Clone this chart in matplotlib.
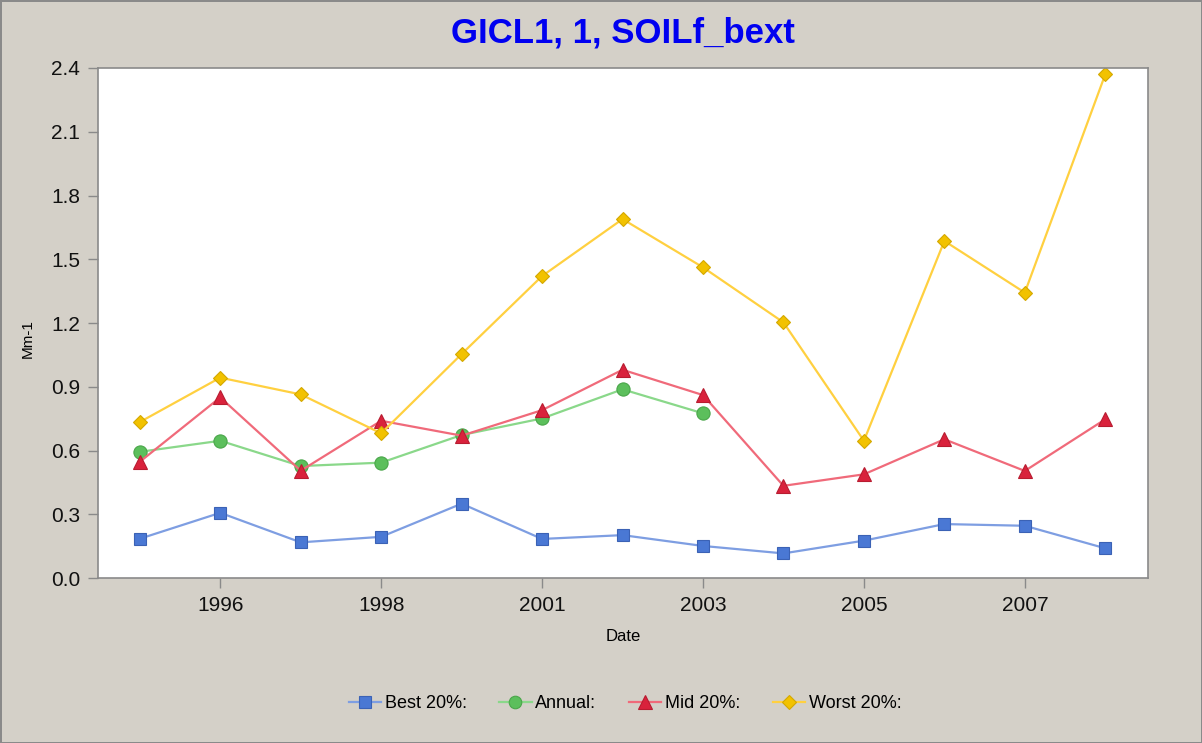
import numpy as np
import matplotlib
matplotlib.use("Agg")
import matplotlib.pyplot as plt

plt.rcParams['font.family'] = ['Liberation Sans', 'DejaVu Sans']

# 13 yearly points, only every other year is labelled on the axis
tick_pos = [1, 3, 5, 7, 9, 11]
tick_labels = ["1996", "1998", "2001", "2003", "2005", "2007"]

best = [0.185, 0.307, 0.168, 0.194, 0.350, 0.184, 0.202, 0.151, 0.116, 0.176, 0.254, 0.246, 0.140]
annual = [0.594, 0.646, 0.527, 0.543, 0.673, 0.751, 0.888, 0.775,
          np.nan, np.nan, np.nan, np.nan, np.nan]
mid = [0.547, 0.850, 0.505, 0.740, 0.670, 0.790, 0.980, 0.861, 0.434, 0.488, 0.653, 0.504, 0.747]
worst = [0.734, 0.943, 0.864, 0.681, 1.054, 1.421, 1.689, 1.462, 1.203, 0.646, 1.586, 1.343, 2.370]

bg = "#D4D0C8"
fig = plt.figure(figsize=(12.02, 7.43), dpi=100, facecolor=bg)
fig.patch.set_edgecolor("#8a8a8a")
fig.patch.set_linewidth(2)
ax = fig.add_axes([0.0815, 0.222, 0.8735, 0.6865])
ax.set_facecolor("white")

x = np.arange(len(best))
series = [
    ("Best 20%:", best, "s", 9, "#4A78D4", "#3B62B5", "#7E9EE2"),
    ("Annual:", annual, "o", 9.5, "#5CBF5C", "#4AA64A", "#8AD88A"),
    ("Mid 20%:", mid, "^", 10, "#D9223C", "#B81C30", "#F06A7A"),
    ("Worst 20%:", worst, "D", 7, "#F2C200", "#D4A800", "#FFD040"),
]
for label, vals, mk, ms, fc, ec, lc in series:
    ax.plot(x, vals, color=lc, lw=1.6, marker=mk, markersize=ms,
            markerfacecolor=fc, markeredgecolor=ec, markeredgewidth=0.8,
            label=label)

ax.set_xlim(-0.52, 12.53)
ax.set_ylim(0, 2.4)
ax.set_yticks(np.arange(0, 2.41, 0.3))
ax.set_yticklabels([f"{v:.1f}" for v in np.arange(0, 2.41, 0.3)])
ax.set_xticks(tick_pos)
ax.set_xticklabels(tick_labels)
ax.tick_params(axis='both', colors="#8a8a8a", labelcolor="#111111",
               labelsize=15, length=7, width=1, pad=6)

for s in ax.spines.values():
    s.set_color("#8a8a8a")
    s.set_linewidth(1.2)

ax.set_xlabel("Date", fontsize=12, labelpad=10)
fig.text(0.023, 0.545, "Mm-1", rotation=90, fontsize=11,
         ha='center', va='center')
fig.text(0.518, 0.955, "GICL1, 1, SOILf_bext", color="#0000F0",
         fontsize=25, fontweight='bold', ha='center', va='center')

fig.legend(loc='center', bbox_to_anchor=(0.52, 0.053), ncol=4,
           frameon=False, fontsize=13, handlelength=1.8,
           handletextpad=0.2, columnspacing=1.8, markerscale=0.95)

fig.savefig("out.png", dpi=100, facecolor=bg, edgecolor=fig.get_edgecolor())
